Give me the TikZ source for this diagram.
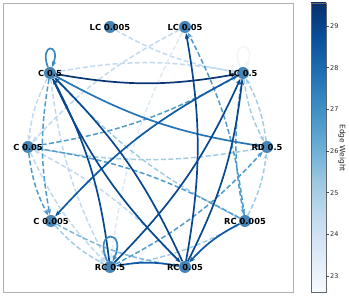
\documentclass[tikz,border=0pt]{standalone}
\usepackage{fontspec}
\setmainfont{DejaVu Sans}
\usetikzlibrary{arrows.meta}
\definecolor{bl0}{HTML}{F7FBFF}
\definecolor{bl1}{HTML}{DEEBF7}
\definecolor{bl2}{HTML}{C6DBEF}
\definecolor{bl3}{HTML}{9ECAE1}
\definecolor{bl4}{HTML}{6BAED6}
\definecolor{bl5}{HTML}{4292C6}
\definecolor{bl6}{HTML}{2171B5}
\definecolor{bl7}{HTML}{08519C}
\definecolor{bl8}{HTML}{08306B}
\definecolor{cA}{HTML}{0A3675}
\definecolor{cB}{HTML}{08488E}
\definecolor{cC}{HTML}{0E5AA4}
\definecolor{cD}{HTML}{2474B7}
\definecolor{cE}{HTML}{3A8AC2}
\definecolor{cF}{HTML}{4F9BCB}
\definecolor{cG}{HTML}{7DB8DA}
\definecolor{cH}{HTML}{A3CCE3}
\definecolor{cI}{HTML}{C3DAEE}
\definecolor{cJ}{HTML}{DCE9F6}
\definecolor{cK}{HTML}{EDF4FB}
\definecolor{nodecol}{HTML}{4584B6}
\definecolor{framecol}{HTML}{B0B0B0}
\pgfdeclareverticalshading{bluesbar}{100bp}{color(0bp)=(bl0); color(25bp)=(bl0); color(31.25bp)=(bl1); color(37.5bp)=(bl2); color(43.75bp)=(bl3); color(50bp)=(bl4); color(56.25bp)=(bl5); color(62.5bp)=(bl6); color(68.75bp)=(bl7); color(75bp)=(bl8); color(100bp)=(bl8)}
\pgfdeclarelayer{bg}
\pgfsetlayers{bg,main}
\tikzset{
  vtx/.style={circle, fill=nodecol, minimum size=12pt, inner sep=0pt},
  lbl/.style={font=\fontsize{8.3}{9}\selectfont\bfseries, inner sep=0pt, text=black},
  tip/.style={-{Stealth[length=6pt,width=4.5pt]}},
  sd/.style={tip, line width=1.7pt, bend right=10},
  dd/.style={tip, line width=1.5pt, bend right=10, dash pattern=on 5pt off 2.5pt},
  lp/.style={tip, line width=1.7pt},
  tk/.style={font=\fontsize{6.5}{7}\selectfont, anchor=west, inner sep=0pt, text=black!85},
}
\begin{document}
\begin{tikzpicture}[x=1pt,y=1pt]
\useasboundingbox (0,0) rectangle (349,-296);
\draw[framecol, line width=0.9pt] (3,-3) rectangle (293,-292);
% vertices
\node[vtx] (A)  at (110,-27)  {};
\node[vtx] (B)  at (185,-27)  {};
\node[vtx] (Cn) at (243,-73)  {};
\node[vtx] (D)  at (267,-147) {};
\node[vtx] (E)  at (245,-221) {};
\node[vtx] (F)  at (185,-267) {};
\node[vtx] (G)  at (110,-267) {};
\node[vtx] (H)  at (51,-221)  {};
\node[vtx] (I)  at (28,-147)  {};
\node[vtx] (J)  at (50,-73)   {};
\begin{pgfonlayer}{bg}
% light dashed edges
\draw[dd, draw=cI, cI] (Cn) to (J);
\draw[dd, draw=cI, cI] (B) to (I);
\draw[dd, draw=cI, cI] (A) to (Cn);
\draw[dd, draw=cJ, cJ] (B) to (G);
\draw[dd, draw=cH, cH] (Cn) to (D);
\draw[dd, draw=cH, cH] (D) to (Cn);
\draw[dd, draw=cH, cH] (E) to (D);
\draw[dd, draw=cH, cH] (J) to (E);
\draw[dd, draw=cH, cH] (I) to (D);
\draw[dd, draw=cH, cH] (G) to (E);
\draw[dd, draw=cI, cI] (F) to (I);
\draw[dd, draw=cI, cI] (J) to (I);
\draw[dd, draw=cI, cI] (J) to (G);
\draw[dd, draw=cI, cI] (I) to (G);
\draw[dd, draw=cH, cH] (H) to (G);
\draw[dd, draw=cG, cG] (H) to (F);
% mid dashed edges
\draw[dd, draw=cF, cF] (I) to (Cn);
\draw[dd, draw=cF, cF] (J) to (H);
\draw[dd, draw=cF, cF] (I) to (H);
\draw[dd, draw=cF, cF] (E) to (B);
\draw[dd, draw=cF, cF] (Cn) to (E);
\draw[dd, draw=cF, cF] (G) to (D);
\draw[dd, draw=cF, cF] (E) to (I);
% solid edges
\draw[sd, draw=cD, cD] (J) to (D);
\draw[sd, draw=cC, cC] (Cn) to (H);
\draw[sd, draw=cC, cC] (E) to (F);
\draw[sd, draw=cC, cC] (F) to (G);
\draw[sd, draw=cB, cB] (G) to (J);
\draw[sd, draw=cB, cB] (F) to (J);
\draw[sd, draw=cB, cB] (J) to (F);
\draw[sd, draw=cB, cB] (G) to (Cn);
\draw[sd, draw=cB, cB] (F) to (Cn);
\draw[sd, draw=cB, cB] (F) to (B);
\draw[sd, draw=cA, cA] (J) to (Cn);
% self loops
\draw[lp, draw=cE, cE] (J) to[out=110, in=70, min distance=26pt] (J);
\draw[lp, draw=cE, cE] (G) to[out=115, in=65, min distance=36pt] (G);
\draw[lp, line width=1.2pt, draw=cK, cK] (Cn) to[out=115, in=65, min distance=30pt] (Cn);
\end{pgfonlayer}
% labels
\node[lbl] (lA)  at (A)  {LC 0.005};
\node[lbl] (lB)  at (B)  {LC 0.05};
\node[lbl] (lCn) at (Cn) {LC 0.5};
\node[lbl] (lD)  at (D)  {RD 0.5};
\node[lbl] (lE)  at (E)  {RC 0.005};
\node[lbl] (lF)  at (F)  {RC 0.05};
\node[lbl] (lG)  at (G)  {RC 0.5};
\node[lbl] (lH)  at (H)  {C 0.005};
\node[lbl] (lI)  at (I)  {C 0.05};
\node[lbl] (lJ)  at (J)  {C 0.5};
% colorbar
\shade[shading=bluesbar] (311,-292) rectangle (326,-3);
\draw[black!60, line width=0.5pt] (311,-292) rectangle (326,-3);
\foreach \v/\yy in {23/276, 24/234.3, 25/192.7, 26/151, 27/109.3, 28/67.7, 29/26} {
  \draw[black!70, line width=0.5pt] (326,-\yy) -- (329,-\yy);
  \node[tk] (t\v) at (330,-\yy) {\v};
}
\node[font=\fontsize{7.5}{8}\selectfont, rotate=-90, inner sep=0pt, text=black!85] (cbl) at (342,-148) {Edge Weight};
\end{tikzpicture}
\end{document}
